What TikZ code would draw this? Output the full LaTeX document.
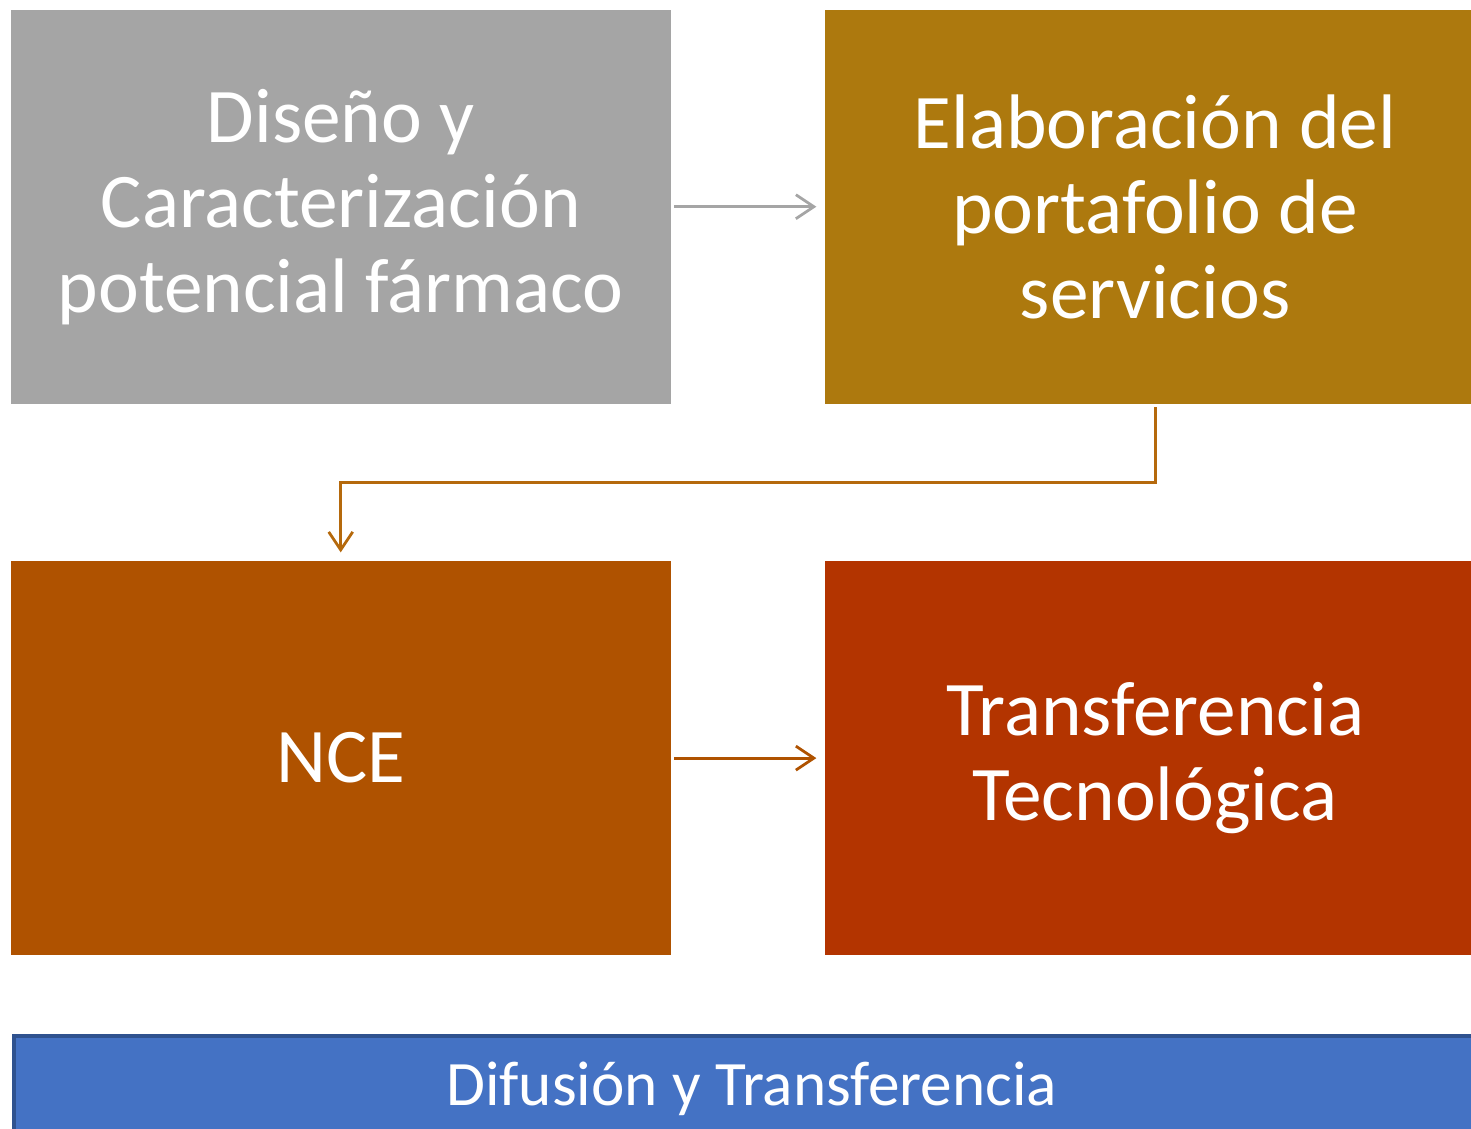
\documentclass[tikz,border=0pt]{standalone}
\usepackage{fontspec}
\setmainfont{Carlito}
\usetikzlibrary{calc,arrows.meta,positioning}
\definecolor{mygray}{RGB}{165,165,165}
\definecolor{mygold}{RGB}{173,121,14}
\definecolor{myorange}{RGB}{175,82,0}
\definecolor{myred}{RGB}{179,52,0}
\definecolor{myblue}{RGB}{68,114,196}
\definecolor{myblueline}{RGB}{47,82,143}
\definecolor{mylink}{RGB}{181,105,12}

\begin{document}
\begin{tikzpicture}[
  stepbox/.style={
    fill=#1,
    minimum width=6.6cm,
    minimum height=3.94cm,
    inner sep=0pt,
    text=white,
    align=center,
    font=\fontsize{22}{24.2}\selectfont
    },
  link/.style={
    draw=#1,
    line width=0.8pt,
    -{Straight Barb[length=1.8mm,width=2.4mm]},
    shorten <=0.03cm,
    shorten >=0.08cm
  }
]
\useasboundingbox (0,0) rectangle (14.71,-11.29);
\clip (0,0) rectangle (14.71,-11.29);

\node[stepbox=mygray, anchor=north west] (diseno) at (0.10,-0.09)
  {Diseño y\\Caracterización\\potencial fármaco};
\node[stepbox=mygold, right=1.53cm of diseno] (portafolio)
  {Elaboración del\\portafolio de\\servicios};
\node[stepbox=myorange, below=1.56cm of diseno] (nce) {NCE};
\node[stepbox=myred, right=1.53cm of nce] (transferencia)
  {Transferencia\\Tecnológica};

\node[fill=myblue, draw=myblueline, line width=1pt, anchor=north west,
  minimum width=14.76cm, minimum height=1.06cm, inner sep=0pt,
  text=white, font=\fontsize{18}{21}\selectfont] (difusion) at (0.12,-10.34)
  {Difusión y Transferencia};

\coordinate (codo) at ($(portafolio.south)!0.5!(nce.north)$);

\draw[link=mygray] (diseno) -- (portafolio);
\draw[link=mylink] (portafolio.south) |- (codo) -| (nce.north);
\draw[link=myorange] (nce) -- (transferencia);

\end{tikzpicture}
\end{document}
